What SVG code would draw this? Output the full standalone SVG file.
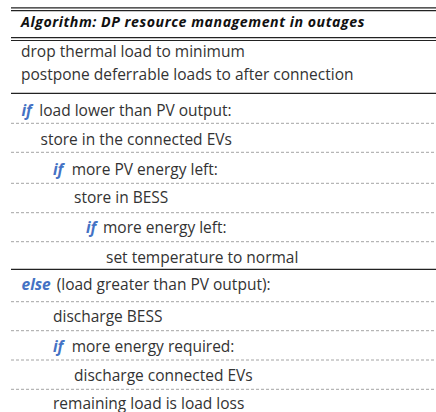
<svg xmlns="http://www.w3.org/2000/svg" width="436" height="412" viewBox="0 0 436 412">
<style>
.t{font-family:"Open Sans","Liberation Sans",sans-serif;font-size:15.5px;fill:#333}
.h{font-family:"Open Sans","Liberation Sans",sans-serif;font-size:14.2px;letter-spacing:0.53px;font-weight:bold;font-style:italic;fill:#111}
.k{font-weight:bold;font-style:italic;fill:#4472C4}
.s{stroke:#222;stroke-width:1.2;fill:none}
.d{stroke:#9a9a9a;stroke-width:0.9;stroke-dasharray:3 2;fill:none}
</style>
<rect width="436" height="412" fill="#fff"/>
<g id="connectors">
<line class="s" x1="11" y1="7.8" x2="436" y2="7.8"/>
<line class="s" x1="11" y1="10.6" x2="436" y2="10.6"/>
<line class="s" x1="11" y1="37.6" x2="436" y2="37.6"/>
<line class="s" x1="11" y1="40.5" x2="436" y2="40.5"/>
<line class="s" x1="11" y1="93.3" x2="436" y2="93.3"/>
<line class="d" x1="11" y1="123.3" x2="436" y2="123.3"/>
<line class="d" x1="11" y1="152.3" x2="436" y2="152.3"/>
<line class="d" x1="11" y1="183.3" x2="436" y2="183.3"/>
<line class="d" x1="11" y1="212.7" x2="436" y2="212.7"/>
<line class="d" x1="11" y1="241.7" x2="436" y2="241.7"/>
<line class="s" x1="11" y1="269.3" x2="436" y2="269.3"/>
<line class="d" x1="11" y1="301.7" x2="436" y2="301.7"/>
<line class="d" x1="11" y1="330.7" x2="436" y2="330.7"/>
<line class="d" x1="11" y1="360" x2="436" y2="360"/>
<line class="d" x1="11" y1="389.3" x2="436" y2="389.3"/>
</g>
<g id="title"><text class="h" x="21" y="27.3">Algorithm: DP resource management in outages</text></g>
<g id="drop"><text class="t" x="21" y="56.5">drop thermal load to minimum</text></g>
<g id="postpone"><text class="t" x="21" y="79.5">postpone deferrable loads to after connection</text></g>
<g id="if-load"><text class="t" y="115.5"><tspan class="k" x="21.5">if</tspan><tspan x="39.3">load lower than PV output:</tspan></text></g>
<g id="store-evs"><text class="t" x="40.5" y="144.5">store in the connected EVs</text></g>
<g id="if-pv"><text class="t" y="175"><tspan class="k" x="53">if</tspan><tspan x="71.7">more PV energy left:</tspan></text></g>
<g id="store-bess"><text class="t" x="74" y="202.5">store in BESS</text></g>
<g id="if-energy"><text class="t" y="233"><tspan class="k" x="86">if</tspan><tspan x="103">more energy left:</tspan></text></g>
<g id="set-temp"><text class="t" x="106" y="262.5">set temperature to normal</text></g>
<g id="else"><text class="t" y="290"><tspan class="k" x="21.5">else</tspan><tspan x="56.7">(load greater than PV output):</tspan></text></g>
<g id="discharge-bess"><text class="t" x="53" y="321.5">discharge BESS</text></g>
<g id="if-required"><text class="t" y="351.5"><tspan class="k" x="53">if</tspan><tspan x="71.7">more energy required:</tspan></text></g>
<g id="discharge-evs"><text class="t" x="74" y="381">discharge connected EVs</text></g>
<g id="remaining"><text class="t" x="53" y="408.5">remaining load is load loss</text></g>
</svg>
